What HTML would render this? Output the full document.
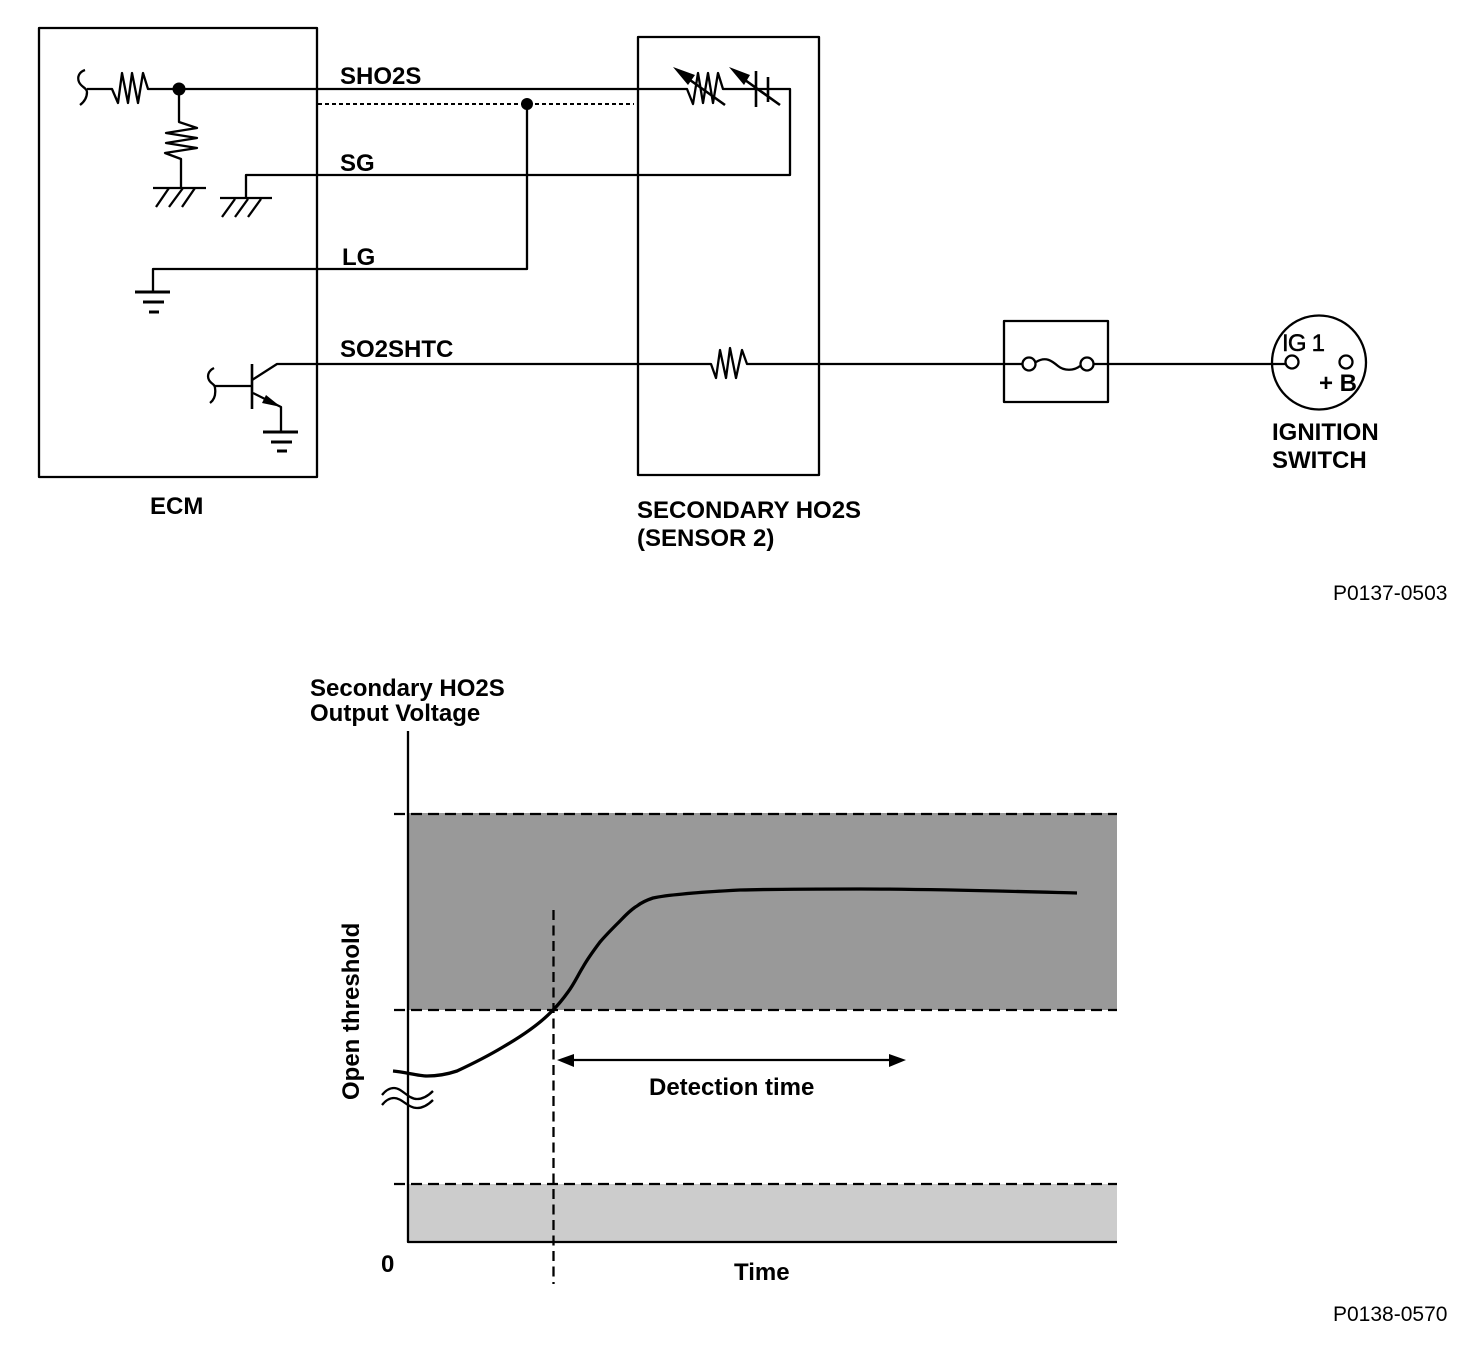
<!DOCTYPE html>
<html><head><meta charset="utf-8"><style>
html,body{margin:0;padding:0;background:#fff}
svg{display:block}
text{font-family:"Liberation Sans",Arial,sans-serif;fill:#000}
.b{font-weight:bold;font-size:24px}
.n{font-size:21px}
.l{fill:none;stroke:#000;stroke-width:2.3;stroke-linejoin:round}
</style></head><body>
<svg width="1477" height="1352" viewBox="0 0 1477 1352" xmlns="http://www.w3.org/2000/svg">
<g class="l">
<rect x="39" y="28" width="278" height="449"/>
<rect x="638" y="37" width="181" height="438"/>
<rect x="1004" y="321" width="104" height="81"/>
<!-- SHO2S -->
<path d="M85 70C79 72 77 77 79 82C81 87 87 88 87 92C87 98 84 102 80 105"/>
<path d="M87 89H112L118 103L122 73L128 103L132 73L138 103L143 73L148 89H687L693 104L698 73L703 103L708 73L713 103L718 73L723 89H790V175H246V198"/>
<path d="M179 89V122L197 128L166 133L197 138L166 143L197 148L165 153L181 159V188"/>
<path d="M153 188H206M169 188L156 207M183 188L169 207M195 188L182 207"/>
<path d="M220 198H272M235 199L222 217M248 199L235 217M261 199L248 217"/>
<!-- sensor symbols -->
<path d="M690 80L725 105" stroke-width="2.6"/>
<path d="M756 71V107M768 77V102M745 80L780 105" stroke-width="2.6"/>
<!-- LG -->
<path d="M318 104H634" stroke-dasharray="4 3" stroke-width="2"/>
<path d="M527 104V269H153V292"/>
<path d="M135 292H170" stroke-width="3"/><path d="M143 302H164" stroke-width="3"/><path d="M149 312H159" stroke-width="3"/>
<!-- SO2SHTC -->
<path d="M252 380L277 364H711L716 378L720 350L726 378L730 348L736 378L742 350L747 364H1023"/>
<path d="M252 364V409" stroke-width="2.6"/>
<path d="M214 368C208 371 207 376 209 380C211 384 215 384 215 388C216 395 214 400 210 403"/>
<path d="M215 386H252"/>
<path d="M253 393L281 407V432"/>
<path d="M263 432H298" stroke-width="3"/><path d="M271 442H292" stroke-width="3"/><path d="M277 451H287" stroke-width="3"/>
<!-- fuse -->
<circle cx="1029" cy="364" r="6.5"/>
<circle cx="1087" cy="364" r="6.5"/>
<path d="M1036 362C1046 356 1052 361 1058 366C1064 371 1074 371 1080 366"/>
<path d="M1093 364H1285"/>
<circle cx="1292" cy="362" r="6.5"/>
<circle cx="1346" cy="362" r="6.5"/>
<circle cx="1319" cy="362.5" r="47"/>
</g>
<circle cx="179" cy="89" r="6.5"/>
<circle cx="527" cy="104" r="6"/>
<path d="M673 67L695 75L688 85Z"/>
<path d="M729 67L750 75L744 85Z"/>
<path d="M281 407L266 395L262 403Z"/>
<g class="b">
<text x="340" y="84">SHO2S</text>
<text x="340" y="171">SG</text>
<text x="342" y="265">LG</text>
<text x="340" y="357">SO2SHTC</text>
<text x="150" y="514">ECM</text>
<text x="637" y="518">SECONDARY HO2S</text>
<text x="637" y="546">(SENSOR 2)</text>
<text x="1282" y="351" font-weight="normal" stroke="#000" stroke-width="0.5" textLength="43">IG 1</text>
<text x="1319" y="391">+ B</text>
<text x="1272" y="440">IGNITION</text>
<text x="1272" y="468">SWITCH</text>
<text x="310" y="696">Secondary HO2S</text>
<text x="310" y="721">Output Voltage</text>
<text x="649" y="1095">Detection time</text>
<text x="381" y="1272">0</text>
<text x="734" y="1280">Time</text>
<text transform="translate(359 1100) rotate(-90)">Open threshold</text>
</g>
<text class="n" x="1333" y="600">P0137-0503</text>
<text class="n" x="1333" y="1321">P0138-0570</text>
<!-- chart -->
<rect x="408" y="813" width="709" height="197" fill="#999"/>
<rect x="408" y="1184" width="709" height="58" fill="#ccc"/>
<g class="l">
<path d="M408 731V1242H1117"/>
<path d="M394 814H1117M394 1010H1117M394 1184H1117" stroke-dasharray="11 6"/>
<path d="M553.5 910V1284" stroke-dasharray="10 5.5"/>
<path d="M570 1060H892"/>
<path d="M393 1071C405 1072 418 1076 427 1076C438 1076 448 1074 457 1071C472 1064 488 1056 503 1047C522 1036 540 1024 553 1010C559 1004 563 999 568 992C574 984 578 975 583 967C588 958 594 950 600 942C606 935 612 929 618 923C624 917 630 910 637 906C642 902 647 900 653 898C662 896 672 895 683 894C702 892 721 891 740 890C780 889 820 889 860 889C930 889 1000 891 1077 893" stroke-width="3.3"/>
<path d="M382 1095C386 1090 390 1088 394 1088C402 1088 408 1099 417 1099C423 1099 428 1096 433 1091"/>
<path d="M382 1105C386 1100 390 1098 394 1098C402 1098 408 1108 417 1108C423 1108 428 1105 433 1100"/>
</g>
<path d="M557 1060L574 1054V1067Z"/>
<path d="M906 1060L889 1054V1067Z"/>
</svg>
</body></html>
